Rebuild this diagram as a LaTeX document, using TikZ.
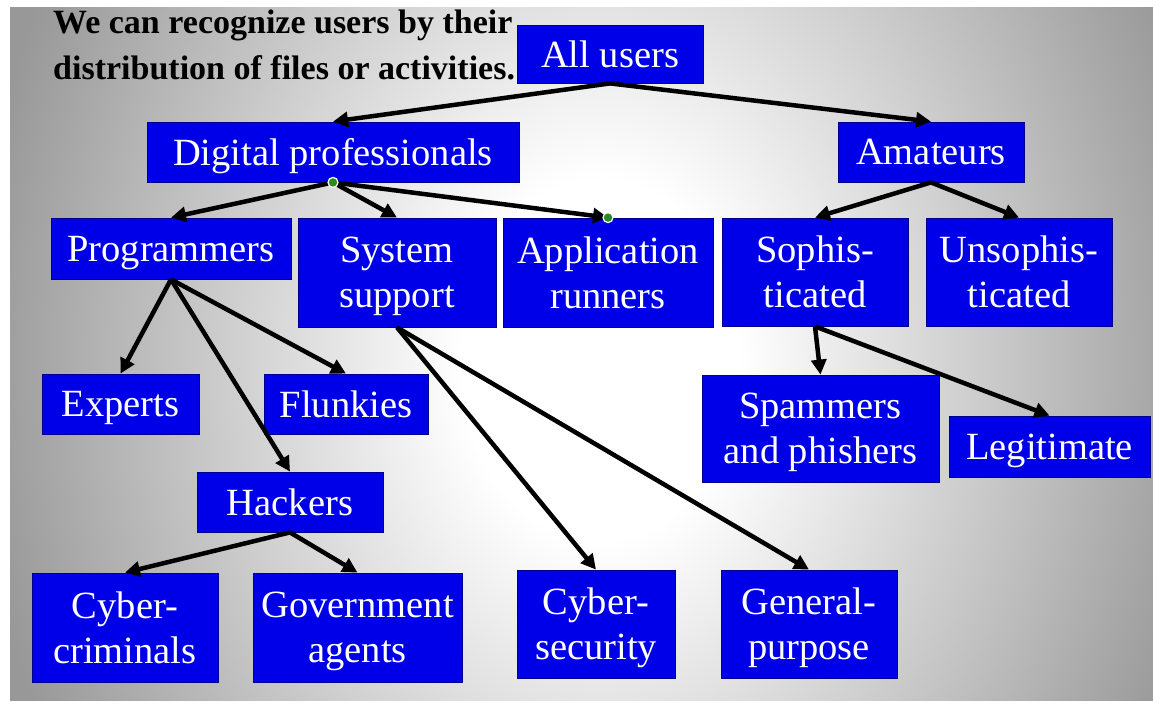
\documentclass[tikz,border=0pt]{standalone}
\usepackage{fontspec}
\setmainfont{Liberation Serif}
\usetikzlibrary{arrows.meta}

\definecolor{boxblue}{RGB}{0,0,232}
\definecolor{boxedge}{RGB}{0,0,140}
\definecolor{bggray}{RGB}{152,152,152}
\definecolor{dotgreen}{RGB}{40,140,30}

\pgfdeclareradialshading{backglow}{\pgfpoint{0bp}{0bp}}{color(0bp)=(white); color(3bp)=(white); color(13.5bp)=(bggray); color(50bp)=(bggray)}

\tikzset{
    usr/.style={draw=boxedge, line width=0.8pt, fill=boxblue, text=white,
        inner sep=0pt, align=center, text depth=-2pt,
        font=\fontsize{38.5}{45}\selectfont},
    link/.style={->, line width=4.5pt},
    handle/.style={circle, fill=dotgreen, draw=white, line width=1.2pt,
        minimum size=10pt, inner sep=0pt}
}

\begin{document}
\begin{tikzpicture}[x=1pt, y=-1pt, >={Triangle[length=15pt, width=15pt]}]
    \useasboundingbox (0,0) rectangle (1153,702);
    \fill[white] (0,0) rectangle (1153,702);
    \begin{scope}
        \clip (10,7) rectangle (1153,700);
        \shade[shading=backglow] (-560,-1140) rectangle (1760,1860);
    \end{scope}

    % Titel
    \node[anchor=north west, inner sep=0pt, align=left,
        font=\bfseries\fontsize{34}{46}\selectfont] (title) at (53,10)
        {We can recognize users by their\\distribution of files or activities.};

    % Ebene 1 und 2
    \node[usr, minimum width=186pt, minimum height=58pt] (alluser) at (610,54) {All users};
    \node[usr, minimum width=372pt, minimum height=60pt] (digital) at (333,152) {Digital professionals};
    \node[usr, minimum width=186pt, minimum height=60pt] (amateur) at (931,152) {Amateurs};

    % Ebene 3
    \node[usr, minimum width=240pt, minimum height=61pt] (prog) at (171,248.5) {Programmers};
    \node[usr, minimum width=198pt, minimum height=109pt] (sysup) at (397,272.5) {System\\support};
    \node[usr, minimum width=210pt, minimum height=109pt] (apprun) at (608,272.5) {Application\\runners};
    \node[usr, minimum width=186pt, minimum height=108pt] (soph) at (815,272) {Sophis-\\ticated};
    \node[usr, minimum width=186pt, minimum height=108pt] (unsoph) at (1019,272) {Unsophis-\\ticated};

    % Ebene 4
    \node[usr, minimum width=157pt, minimum height=60pt] (expert) at (120.5,404) {Experts};
    \node[usr, minimum width=164pt, minimum height=60pt] (flunk) at (346,404) {Flunkies};
    \node[usr, minimum width=186pt, minimum height=60pt] (hacker) at (290,502) {Hackers};
    \node[usr, minimum width=237pt, minimum height=107pt] (spam) at (820.5,428.5) {Spammers\\and phishers};
    \node[usr, minimum width=201pt, minimum height=61pt] (legit) at (1049.5,446.5) {Legitimate};

    % Ebene 5
    \node[usr, minimum width=186pt, minimum height=109pt] (cybcrim) at (125,627.5) {Cyber-\\criminals};
    \node[usr, minimum width=209pt, minimum height=109pt] (govt) at (357.5,627.5) {Government\\agents};
    \node[usr, minimum width=158pt, minimum height=108pt] (cybsec) at (596,624) {Cyber-\\security};
    \node[usr, minimum width=176pt, minimum height=108pt] (genpur) at (809,624) {General-\\purpose};

    % Pfeile
    \draw[link] (alluser.south) -- (digital.north);
    \draw[link] (alluser.south) -- (amateur.north);
    \foreach \kid in {prog, sysup, apprun}
        \draw[link] (digital.south) -- (\kid.north);
    \foreach \kid in {expert, flunk, hacker}
        \draw[link] (prog.south) -- (\kid.north);
    \foreach \kid in {cybsec, genpur}
        \draw[link] (sysup.south) -- (\kid.north);
    \foreach \kid in {soph, unsoph}
        \draw[link] (amateur.south) -- (\kid.north);
    \foreach \kid in {spam, legit}
        \draw[link] (soph.south) -- (\kid.north);
    \foreach \kid in {cybcrim, govt}
        \draw[link] (hacker.south) -- (\kid.north);

    % Anfasser
    \node[handle] (dothead) at (digital.south) {};
    \node[handle] (dottail) at (apprun.north) {};
\end{tikzpicture}
\end{document}
